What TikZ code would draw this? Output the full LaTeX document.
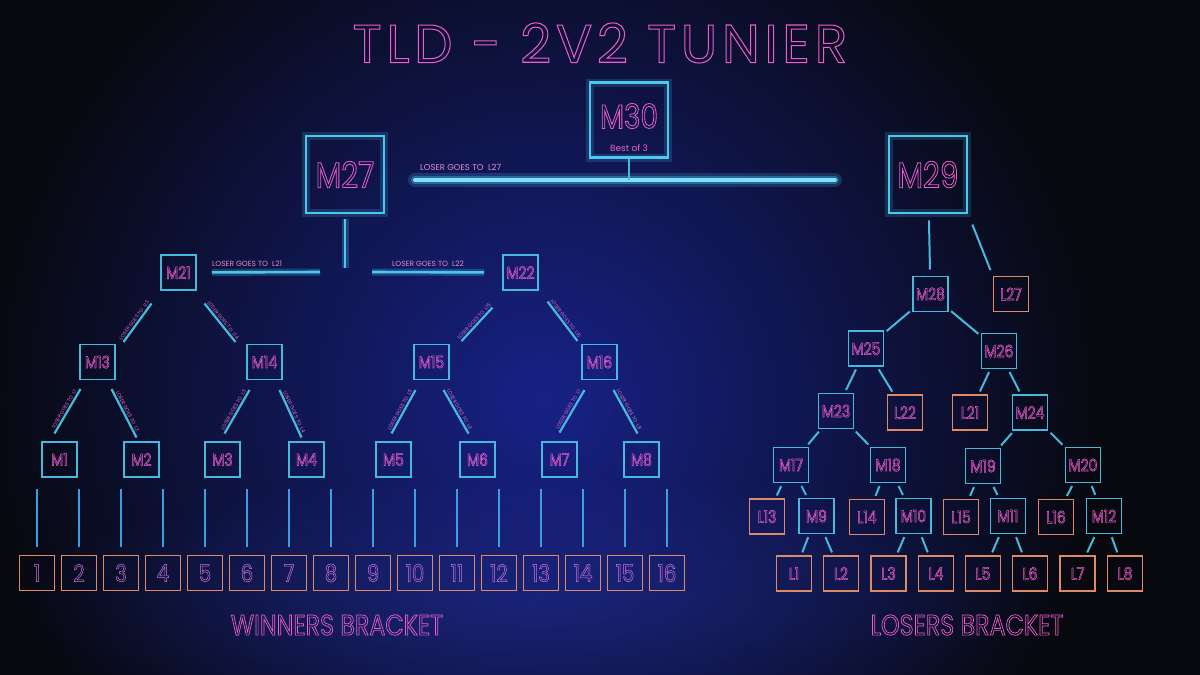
\documentclass[tikz,border=0pt]{standalone}
\usepackage{fontspec}
\setmainfont{Poppins}
\newfontfamily\titlefont{Poppins}[LetterSpace=8.5]
\newfontfamily\neonfont{Poppins}[FakeStretch=0.82]
\usetikzlibrary{positioning,calc,fadings}

\definecolor{bgdark}{RGB}{8,9,15}
\definecolor{bgblue}{RGB}{24,34,135}
\definecolor{floorblue}{RGB}{40,56,170}
\definecolor{neoncyan}{RGB}{75,200,240}
\definecolor{glowcyan}{RGB}{125,225,255}
\definecolor{boxcyan}{RGB}{70,185,220}
\definecolor{neonpink}{RGB}{238,95,205}
\definecolor{notepink}{RGB}{220,110,200}
\definecolor{seedorange}{RGB}{222,138,104}
\definecolor{seedviolet}{RGB}{205,115,225}

\tikzfading[name=softglow, inner color=transparent!0, outer color=transparent!100]

\tikzset{
  outlined/.style={execute at begin node={\special{pdf:literal direct 1 Tr #1 w}},
                   execute at end node={\special{pdf:literal direct 0 Tr}}},
  bigbox/.style={draw=neoncyan, line width=2.6pt, minimum width=78pt, minimum height=77pt,
                 inner sep=0pt, text=neonpink, outlined=0.8,
                 font=\neonfont\fontsize{36}{36}\selectfont,
                 preaction={draw=neoncyan, line width=8pt, opacity=.18}},
  mbox/.style={draw=boxcyan, line width=1.7pt, minimum size=35pt, inner sep=0pt,
               text=neonpink, outlined=0.5, font=\neonfont\fontsize{17}{17}\selectfont},
  lbox/.style={mbox, draw=seedorange},
  seed/.style={lbox, text=seedviolet, font=\neonfont\fontsize{24}{24}\selectfont},
  wline/.style={draw=boxcyan, line width=2.2pt},
  midglow/.style={draw=neoncyan, line width=2.6pt,
                  preaction={draw=neoncyan, line width=7pt, opacity=.25}},
  sline/.style={draw=boxcyan!85!blue, line width=1.8pt, shorten <=8pt, shorten >=11pt},
  lline/.style={draw=boxcyan, line width=2pt, shorten <=3pt, shorten >=3pt},
  glowline/.style={draw=glowcyan, line width=4pt, line cap=round,
                   preaction={draw=neoncyan, line width=14pt, opacity=.18, line cap=round},
                   preaction={draw=neoncyan, line width=8pt, opacity=.35, line cap=round}},
  lose/.style={midway, sloped, above, inner sep=1.2pt, text=notepink,
               font=\fontsize{5}{5}\selectfont},
  note/.style={anchor=south west, inner sep=0pt, text=notepink!80!white,
               font=\fontsize{7.5}{7.5}\selectfont},
  heading/.style={text=neonpink, outlined=0.7, font=\neonfont\fontsize{29}{29}\selectfont},
}

\begin{document}
\begin{tikzpicture}[x=1pt,y=-1pt]
\useasboundingbox (0,0) rectangle (1200,675);
% background
\fill[bgdark] (0,0) rectangle (1200,675);
\begin{scope}
  \clip (0,0) rectangle (1200,675);
  \fill[bgblue, path fading=softglow] (545,400) ellipse (560 and 560);
  \fill[floorblue, path fading=softglow, opacity=.35] (530,600) ellipse (520 and 130);
\end{scope}

\node[text=neonpink, outlined=1, font=\titlefont\fontsize{54}{54}\selectfont] (title) at (600,43) {TLD - 2V2 TUNIER};

% final and the two semis
\node[bigbox, minimum height=75pt] (M30) at (629,120) {};
\node[text=neonpink, outlined=0.8, font=\neonfont\fontsize{34}{34}\selectfont] (M30lbl) at (629,116) {M30};
\node[text=neonpink, font=\fontsize{9}{9}\selectfont, above=4pt of M30.south] (bestof) {Best of 3};
\node[bigbox] (M27) at (345,174.5) {M27};
\node[bigbox] (M29) at (928,174.5) {M29};

\coordinate (l27a) at (415,180);
\coordinate (l27b) at (835,180);
\draw[glowline] (l27a) -- (l27b);
\draw[wline] (M30) -- (M30 |- l27a);
\node[note, font=\fontsize{8.5}{8.5}\selectfont] (l27note) at (420,171) {LOSER GOES TO~ L27};

% winners bracket
\node[mbox] (M21) at (178.5,272.5) {M21};
\node[mbox] (M22) at (520.5,272.5) {M22};
\node[mbox] (M13) at (97.5,362) {M13};
\node[mbox] (M14) at (264.5,362) {M14};
\node[mbox] (M15) at (431.5,362) {M15};
\node[mbox] (M16) at (599.5,362) {M16};
\foreach \n/\x in {1/59.5, 2/141.5, 3/222.5, 4/306.5, 5/393.5, 6/477.5, 7/559.5, 8/641.5}
  \node[mbox] (M\n) at (\x,459.5) {M\n};
\foreach \i in {1,...,16}
  \node[seed] (s\i) at ({37+42*(\i-1)},573) {\i};

\coordinate (k27) at (345,268);
\coordinate (k21) at (320,272);
\coordinate (k22) at (372,272);
\draw[midglow, shorten <=5pt] (M27) -- (k27);
\draw[midglow, shorten <=15pt] (M21) -- (k21);
\draw[midglow, shorten >=18pt] (k22) -- (M22);
\node[note] (l21note) at (212,267) {LOSER GOES TO~ L21};
\node[note] (l22note) at (392,267) {LOSER GOES TO~ L22};

\draw[wline] ($(M21)+(-27,31)$) -- node[lose] {LOSER GOES TO~ L13} ($(M13)+(26,-20)$);
\draw[wline] ($(M21)+(26,31)$) -- node[lose] {LOSER GOES TO~ L14} ($(M14)+(-29,-20)$);
\draw[wline] ($(M22)+(-28,35)$) -- node[lose] {LOSER GOES TO~ L15} ($(M15)+(30,-21)$);
\draw[wline] ($(M22)+(27,29)$) -- node[lose] {LOSER GOES TO~ L16} ($(M16)+(-22,-21)$);
\draw[wline] ($(M13)+(-17,27)$) -- node[lose] {LOSER GOES TO~ L1} ($(M1)+(-5,-26)$);
\draw[wline] ($(M13)+(14,27)$) -- node[lose] {LOSER GOES TO~ L2} ($(M2)+(-5,-22)$);
\draw[wline] ($(M14)+(-15,28)$) -- node[lose] {LOSER GOES TO~ L3} ($(M3)+(2,-26)$);
\draw[wline] ($(M14)+(15,28)$) -- node[lose] {LOSER GOES TO~ L4} ($(M4)+(-5,-22)$);
\draw[wline] ($(M15)+(-16,28)$) -- node[lose] {LOSER GOES TO~ L5} ($(M5)+(-2,-26)$);
\draw[wline] ($(M15)+(12,28)$) -- node[lose] {LOSER GOES TO~ L6} ($(M6)+(-9,-26)$);
\draw[wline] ($(M16)+(-15,28)$) -- node[lose] {LOSER GOES TO~ L7} ($(M7)+(0,-27)$);
\draw[wline] ($(M16)+(14,28)$) -- node[lose] {LOSER GOES TO~ L8} ($(M8)+(-4,-26)$);

\foreach \i [evaluate=\i as \m using {int((\i+1)/2)}] in {1,...,16}
  \draw[sline] (s\i.north) -- (s\i.north |- M\m.south);

% losers bracket
\node[mbox] (M28) at (930.5,294) {M28};
\node[lbox] (L27) at (1011,294) {L27};
\node[mbox] (M25) at (866,348.5) {M25};
\node[mbox] (M26) at (999,351) {M26};
\node[mbox] (M23) at (836,411) {M23};
\node[lbox] (L22) at (905,412.5) {L22};
\node[lbox] (L21) at (970,412.5) {L21};
\node[mbox] (M24) at (1030,412.5) {M24};
\node[mbox] (M17) at (791,465) {M17};
\node[mbox] (M18) at (888,465) {M18};
\node[mbox] (M19) at (983,466) {M19};
\node[mbox] (M20) at (1083,465) {M20};
\node[lbox] (L13) at (767,516.5) {L13};
\node[mbox] (M9) at (816.5,516) {M9};
\node[lbox] (L14) at (867,517) {L14};
\node[mbox] (M10) at (913.5,516) {M10};
\node[lbox] (L15) at (961,517) {L15};
\node[mbox] (M11) at (1008,516) {M11};
\node[lbox] (L16) at (1056,517) {L16};
\node[mbox] (M12) at (1104,516) {M12};
\foreach \n/\x in {1/794, 2/841, 3/888.5, 4/936, 5/983, 6/1030, 7/1077.5, 8/1125}
  \node[lbox] (L\n) at (\x,573.5) {L\n};

\draw[lline, shorten <=6pt, shorten >=6pt] (M29) -- (M28);
\draw[lline, shorten <=11pt, shorten >=6pt] (M29.south east) -- (L27.north west);
\foreach \a/\b in {M28/M25, M28/M26, M25/M23, M25/L22, M26/L21, M26/M24,
                   M23/M17, M23/M18, M24/M19, M24/M20, M17/L13, M17/M9,
                   M18/L14, M18/M10, M19/L15, M19/M11, M20/L16, M20/M12,
                   M9/L1, M9/L2, M10/L3, M10/L4, M11/L5, M11/L6, M12/L7, M12/L8}
  \draw[lline] (\a) -- (\b);

\node[heading] (wbr) at (337,625) {WINNERS BRACKET};
\node[heading] (lbr) at (967,625) {LOSERS BRACKET};
\end{tikzpicture}
\end{document}
